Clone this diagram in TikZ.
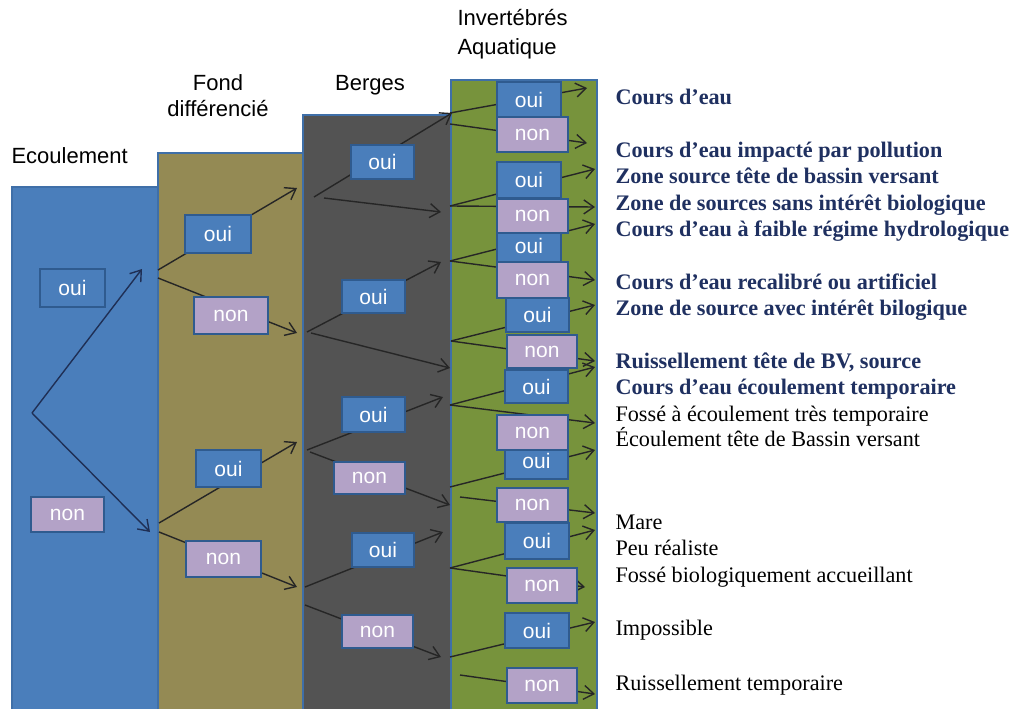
\documentclass[tikz,border=0pt]{standalone}
\usepackage{fontspec}
\setmainfont{Liberation Serif}
\newfontfamily\arialf{Liberation Sans}
\usetikzlibrary{arrows.meta}
\definecolor{pblue}{HTML}{4A7EBB}
\definecolor{polive}{HTML}{948A54}
\definecolor{pgrey}{HTML}{535353}
\definecolor{pgreen}{HTML}{77933C}
\definecolor{pborder}{HTML}{3F6FA8}
\definecolor{bblue}{HTML}{4A7EBB}
\definecolor{blav}{HTML}{B3A2C7}
\definecolor{bborder}{HTML}{2F5B8F}
\definecolor{navy}{RGB}{31,48,96}
\definecolor{lineblue}{HTML}{1F2F55}
\begin{document}
\begin{tikzpicture}[x=1pt,y=-1pt,
  panel/.style={draw=pborder, line width=2pt},
  box/.style={draw=bborder, line width=1.6pt, text=white, inner sep=0pt,
    font=\arialf\fontsize{21}{21}\selectfont},
  ouib/.style={box, fill=bblue},
  nonb/.style={box, fill=blav},
  conn/.style={draw=black!85, line width=1.4pt,
    -{Straight Barb[length=10pt,width=14pt,line width=1.4pt]}},
  connb/.style={conn, draw=lineblue},
  hdr/.style={anchor=base, font=\arialf\fontsize{22}{26}\selectfont},
  res/.style={anchor=base west, font=\fontsize{22.2}{24}\selectfont},
  resb/.style={anchor=base west, text=navy, font=\bfseries\fontsize{22.2}{24}\selectfont}
]
\useasboundingbox (0,0) rectangle (1015,709);
\begin{scope}
\clip (0,0) rectangle (1015,709);
\path[panel, fill=pblue]  (12,187) rectangle (158,720);
\path[panel, fill=polive] (158,153) rectangle (303,720);
\path[panel, fill=pgrey]  (303,115) rectangle (451,720);
\path[panel, fill=pgreen] (451,80) rectangle (597,720);
\end{scope}

% headers
\node[hdr, anchor=base west] (hEc) at (8,163) {Ecoulement};
\node[hdr] (hFo1) at (218,90) {Fond};
\node[hdr] (hFo2) at (218,116) {différencié};
\node[hdr] (hBe) at (370,91) {Berges};
\node[hdr, anchor=base west] (hIn1) at (454,26) {Invertébrés};
\node[hdr, anchor=base west] (hIn2) at (454,55) {Aquatique};

% coordinates
\coordinate (bv) at (32,413);
\coordinate (bt1) at (142,269);
\coordinate (bt2) at (150,532);

\coordinate (f1a) at (158,270); \coordinate (f1u) at (297,188);
\coordinate (f1b) at (158,278); \coordinate (f1d) at (297,333);
\coordinate (f2a) at (159,523); \coordinate (f2u) at (297,442);
\coordinate (f2b) at (159,532); \coordinate (f2d) at (297,587);

\coordinate (g1a) at (314,197); \coordinate (g1u) at (452,113);
\coordinate (g1b) at (324,198); \coordinate (g1d) at (441,212);
\coordinate (g2a) at (307,332); \coordinate (g2u) at (441,262);
\coordinate (g2b) at (311,333); \coordinate (g2d) at (450,368);
\coordinate (g3a) at (307,450); \coordinate (g3u) at (443,397);
\coordinate (g3b) at (310,452); \coordinate (g3d) at (450,505);
\coordinate (g4a) at (305,587); \coordinate (g4u) at (443,532);
\coordinate (g4b) at (305,605); \coordinate (g4d) at (441,657);

\coordinate (e1a) at (450,113); \coordinate (e1b) at (450,124);
\coordinate (e2) at (450,206);
\coordinate (e3) at (450,261);
\coordinate (e4) at (451,341);
\coordinate (e5) at (450,405);
\coordinate (e6) at (450,487); \coordinate (e6b) at (460,497);
\coordinate (e7) at (450,568);
\coordinate (e8) at (450,657); \coordinate (e8b) at (460,675);
\coordinate (t1) at (587,88);  \coordinate (t2) at (587,143);
\coordinate (t3) at (595,169); \coordinate (t4) at (595,207);
\coordinate (t5) at (595,224); \coordinate (t6) at (595,280);
\coordinate (t7) at (595,305); \coordinate (t8) at (595,361);
\coordinate (t9) at (595,367); \coordinate (t10) at (595,423);
\coordinate (t11) at (595,450); \coordinate (t12) at (595,513);
\coordinate (t13) at (595,530); \coordinate (t14) at (585,587);
\coordinate (t15) at (595,622); \coordinate (t16) at (595,694);

% connectors
\draw[connb] (bv) -- (bt1);
\draw[connb] (bv) -- (bt2);
\draw[conn] (f1a) -- (f1u);
\draw[conn] (f1b) -- (f1d);
\draw[conn] (f2a) -- (f2u);
\draw[conn] (f2b) -- (f2d);
\draw[conn] (g1a) -- (g1u);
\draw[conn] (g1b) -- (g1d);
\draw[conn] (g2a) -- (g2u);
\draw[conn] (g2b) -- (g2d);
\draw[conn] (g3a) -- (g3u);
\draw[conn] (g3b) -- (g3d);
\draw[conn] (g4a) -- (g4u);
\draw[conn] (g4b) -- (g4d);
\draw[conn] (e1a) -- (t1);
\draw[conn] (e1b) -- (t2);
\draw[conn] (e2) -- (t3);
\draw[conn] (e2) -- (t4);
\draw[conn] (e3) -- (t5);
\draw[conn] (e3) -- (t6);
\draw[conn] (e4) -- (t7);
\draw[conn] (e4) -- (t8);
\draw[conn] (e5) -- (t9);
\draw[conn] (e5) -- (t10);
\draw[conn] (e6) -- (t11);
\draw[conn] (e6b) -- (t12);
\draw[conn] (e7) -- (t13);
\draw[conn] (e7) -- (t14);
\draw[conn] (e8) -- (t15);
\draw[conn] (e8b) -- (t16);

% boxes: Ecoulement
\node[ouib, minimum width=65pt, minimum height=38pt] (b1) at (72.5,288) {oui};
\node[nonb, minimum width=73pt, minimum height=35pt] (b2) at (67.5,514.5) {non};
% Fond differencie
\node[ouib, minimum width=66pt, minimum height=38pt] (f1) at (218,234) {oui};
\node[nonb, minimum width=74pt, minimum height=37pt] (f2) at (231,315.5) {non};
\node[ouib, minimum width=65pt, minimum height=37pt] (f3) at (228.5,468.5) {oui};
\node[nonb, minimum width=75pt, minimum height=36pt] (f4) at (223.5,559) {non};
% Berges
\node[ouib, minimum width=63pt, minimum height=34pt] (g1) at (382.5,162) {oui};
\node[ouib, minimum width=63pt, minimum height=33pt] (g2) at (373.5,296.5) {oui};
\node[ouib, minimum width=63pt, minimum height=35pt] (g3) at (373.5,414.5) {oui};
\node[nonb, minimum width=71pt, minimum height=32pt] (g4) at (369.5,478) {non};
\node[ouib, minimum width=62pt, minimum height=34pt] (g5) at (383,550) {oui};
\node[nonb, minimum width=71pt, minimum height=33pt] (g6) at (377.5,631.5) {non};
% Invertebres
\node[ouib, minimum width=64pt, minimum height=35pt] (i1) at (529,99.5) {oui};
\node[nonb, minimum width=71pt, minimum height=35pt] (i2) at (532.5,134.5) {non};
\node[ouib, minimum width=64pt, minimum height=36pt] (i3) at (529,180) {oui};
\node[ouib, minimum width=64pt, minimum height=34pt] (i5) at (529,246) {oui};
\node[nonb, minimum width=71pt, minimum height=34pt] (i4) at (532.5,216) {non};
\node[nonb, minimum width=71pt, minimum height=36pt] (i6) at (532.5,280) {non};
\node[ouib, minimum width=63pt, minimum height=34pt] (i7) at (537.5,315) {oui};
\node[nonb, minimum width=70pt, minimum height=33pt] (i8) at (542,351.5) {non};
\node[ouib, minimum width=63pt, minimum height=33pt] (i9) at (536.5,386.5) {oui};
\node[ouib, minimum width=63pt, minimum height=36pt] (i11) at (536.5,461) {oui};
\node[nonb, minimum width=71pt, minimum height=35pt] (i10) at (532.5,432.5) {non};
\node[nonb, minimum width=71pt, minimum height=34pt] (i12) at (532.5,505) {non};
\node[ouib, minimum width=64pt, minimum height=36pt] (i13) at (537,541) {oui};
\node[nonb, minimum width=70pt, minimum height=35pt] (i14) at (542,585.5) {non};
\node[ouib, minimum width=64pt, minimum height=35pt] (i15) at (537,630.5) {oui};
\node[nonb, minimum width=70pt, minimum height=35pt] (i16) at (542,685.5) {non};

% results
\node[resb] (r1) at (612,104) {Cours d’eau};
\node[resb] (r2) at (612,157) {Cours d’eau impacté par pollution};
\node[resb] (r3) at (612,183) {Zone source tête de bassin versant};
\node[resb] (r4) at (612,210) {Zone de sources sans intérêt biologique};
\node[resb] (r5) at (612,236) {Cours d’eau à faible régime hydrologique};
\node[resb] (r6) at (612,289) {Cours d’eau recalibré ou artificiel};
\node[resb] (r7) at (612,315) {Zone de source avec intérêt bilogique};
\node[resb] (r8) at (612,368) {Ruissellement tête de BV, source};
\node[resb] (r9) at (612,394) {Cours d’eau écoulement temporaire};
\node[res] (r10) at (612,421) {Fossé à écoulement très temporaire};
\node[res] (r11) at (612,446) {Écoulement tête de Bassin versant};
\node[res] (r12) at (612,529) {Mare};
\node[res] (r13) at (612,555) {Peu réaliste};
\node[res] (r14) at (612,582) {Fossé biologiquement accueillant};
\node[res] (r15) at (612,635) {Impossible};
\node[res] (r16) at (612,690) {Ruissellement temporaire};
\end{tikzpicture}
\end{document}
